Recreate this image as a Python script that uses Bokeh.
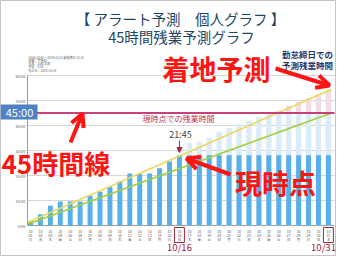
from bokeh.plotting import figure
from bokeh.models import Range1d, Arrow, OpenHead, NormalHead
from bokeh.core.properties import value
from bokeh.embed import file_html
from bokeh.resources import INLINE

FONT = "Noto Sans CJK JP"

# ---- data ----
days = list(range(1, 32))
weekdays = ["火", "水", "木", "金", "土", "日", "月"]
actual_hours = [1.6, 4.5, 7.9, 9.6, 9.6, 9.6, 11.9, 13.5, 15.5, 17.6, 20.8, 20.6, 20.8, 22.9, 25.6, 28.1,
                28.1, 28.1, 28.1, 28.1, 28.1, 28.1, 28.1, 28.1, 28.1, 28.1, 28.1, 28.1, 28.1, 28.1, 28.1]
forecast_days = list(range(17, 32))
forecast_hours = [33.0, 33.5, 35.0, 37.5, 39.0, 40.5, 42.0, 43.5, 45.0, 46.0, 48.0, 49.5, 51.0, 52.5, 54.5]
pace_days = [0.7, 31.3]
landing_pace = [1.2, 54.4]
limit_pace = [0.5, 45.0]
limit_hours = 45
y_ticks = [0, 10, 20, 30, 40, 50, 60]
y_tick_labels = ["0:00", "10:00", "20:00", "30:00", "40:00", "50:00", "60:00"]
current_day = 16
close_day = 31

# page-pixel helpers for annotation placement
def dx(px):
    return (px - 38) / 9.93 + 1

def dy(py):
    return (233 - py) / 2.5

p = figure(width=336, height=256, x_range=Range1d(dx(8), dx(344)), y_range=Range1d(dy(264), dy(8)),
           output_backend="svg", toolbar_location=None, min_border=0,
           x_axis_location=None, y_axis_location=None)
p.grid.visible = False
p.outline_line_color = "#c4c4c4"
p.background_fill_color = "white"
p.border_fill_color = "white"

def txt(px, py, s, size, color, bold=False, align="center"):
    p.text(x=[dx(px)], y=[dy(py)], text=[s], text_font=value(FONT), text_font_size=f"{size}px",
           text_color=color, text_align=align, text_baseline="middle",
           text_font_style="bold" if bold else "normal")

# grid lines and y axis
for t, lab in zip(y_ticks, y_tick_labels):
    p.segment(x0=[dx(35)], x1=[dx(342)], y0=[t], y1=[t],
              line_color="#9a9a9a" if t == 0 else "#d6d6d6", line_width=1)
    p.text(x=[dx(33)], y=[t], text=[lab], text_font=value(FONT), text_font_size="4px",
           text_color="#666666", text_align="right", text_baseline="middle")
p.segment(x0=[dx(35)], x1=[dx(35)], y0=[0], y1=[y_ticks[-1]], line_color="#9a9a9a", line_width=1)

# ghost forecast bars
p.vbar(x=forecast_days, top=[min(v, limit_hours) for v in forecast_hours], bottom=0, width=0.55,
       fill_color="#dcebf8", line_color=None)
p.vbar(x=[d for d, v in zip(forecast_days, forecast_hours) if v > limit_hours],
       top=[v for v in forecast_hours if v > limit_hours], bottom=limit_hours, width=0.55,
       fill_color="#f2dde7", line_color=None)
# actual bars
p.vbar(x=days, top=actual_hours, bottom=0, width=0.5, fill_color="#58b0ea", line_color=None)

# pace lines
p.line(pace_days, landing_pace, line_color="#ecd85a", line_width=1.5)
p.line(pace_days, limit_pace, line_color="#9fcf3a", line_width=1.5)

# 45h line
p.segment(x0=[dx(35)], x1=[dx(342)], y0=[limit_hours], y1=[limit_hours], line_color="#c8407a", line_width=2)
p.quad(left=[dx(8)], right=[dx(45)], top=[dy(112)], bottom=[dy(127)], fill_color="#4e82c4", line_color=None)
txt(27, 119.5, "45:00", 11, "white")

# x tick labels (tiny)
for i, d in enumerate(days):
    for row, s in enumerate(["10", f"{d:02d}", weekdays[i % 7]]):
        p.text(x=[d], y=[dy(239 + row * 4)], text=[s], text_font=value(FONT), text_font_size="3.5px",
               text_color="#555555", text_align="center", text_baseline="middle")
for d in [current_day, close_day]:
    p.quad(left=[d - 0.5], right=[d + 0.5], top=[dy(235)], bottom=[dy(250)], fill_color=None,
           line_color="#a0283c", line_width=1)
txt(187, 254, "10/16", 9.5, "#9b2335")
txt(331, 254, "10/31", 9.5, "#9b2335")

# titles
txt(188, 26, "【 アラート予測　個人グラフ 】", 14.5, "#1d4766")
txt(189, 44, "45時間残業予測グラフ", 14.5, "#1d4766")

# tiny info lines top-left
for i, s in enumerate(["2019/10/01～2019/10/31 勤怠締日 10/31", "部署：営業部", "氏名：山田 太郎",
                       "所定：8:00", "集計日：2019/10/16"]):
    p.text(x=[dx(36)], y=[dy(65 + i * 3.3)], text=[s], text_font=value(FONT), text_font_size="3px",
           text_color="#666666", text_align="left", text_baseline="middle")

# labels
txt(315, 61, "勤怠締日での", 8.5, "#1f3a6b", bold=True)
txt(315, 72, "予測残業時間", 8.5, "#1f3a6b", bold=True)
txt(338, 91, "38", 7, "#444444", align="right")
txt(186, 126, "現時点での残業時間", 8, "#b8344f")
txt(188, 142, "21:45", 9, "#444444")
p.add_layout(Arrow(end=NormalHead(size=5, fill_color="#a0283c", line_color="#a0283c"),
                   x_start=current_day, y_start=dy(148), x_end=current_day, y_end=dy(160),
                   line_color="#a0283c", line_width=1))

# big red callouts
RED = "#ff1414"
txt(224, 76, "着地予測", 27, RED, bold=True)
txt(9, 170, "45時間線", 26, RED, bold=True, align="left")
txt(283, 190, "現時点", 27, RED, bold=True)
for (x0, y0, x1, y1) in [(283, 76, 337, 93), (78, 150, 90, 121), (238, 182, 194, 166)]:
    p.add_layout(Arrow(end=OpenHead(size=13, line_color=RED, line_width=4),
                       x_start=dx(x0), y_start=dy(y0), x_end=dx(x1), y_end=dy(y1),
                       line_color=RED, line_width=4))

open("out.html", "w").write(file_html(p, INLINE))
